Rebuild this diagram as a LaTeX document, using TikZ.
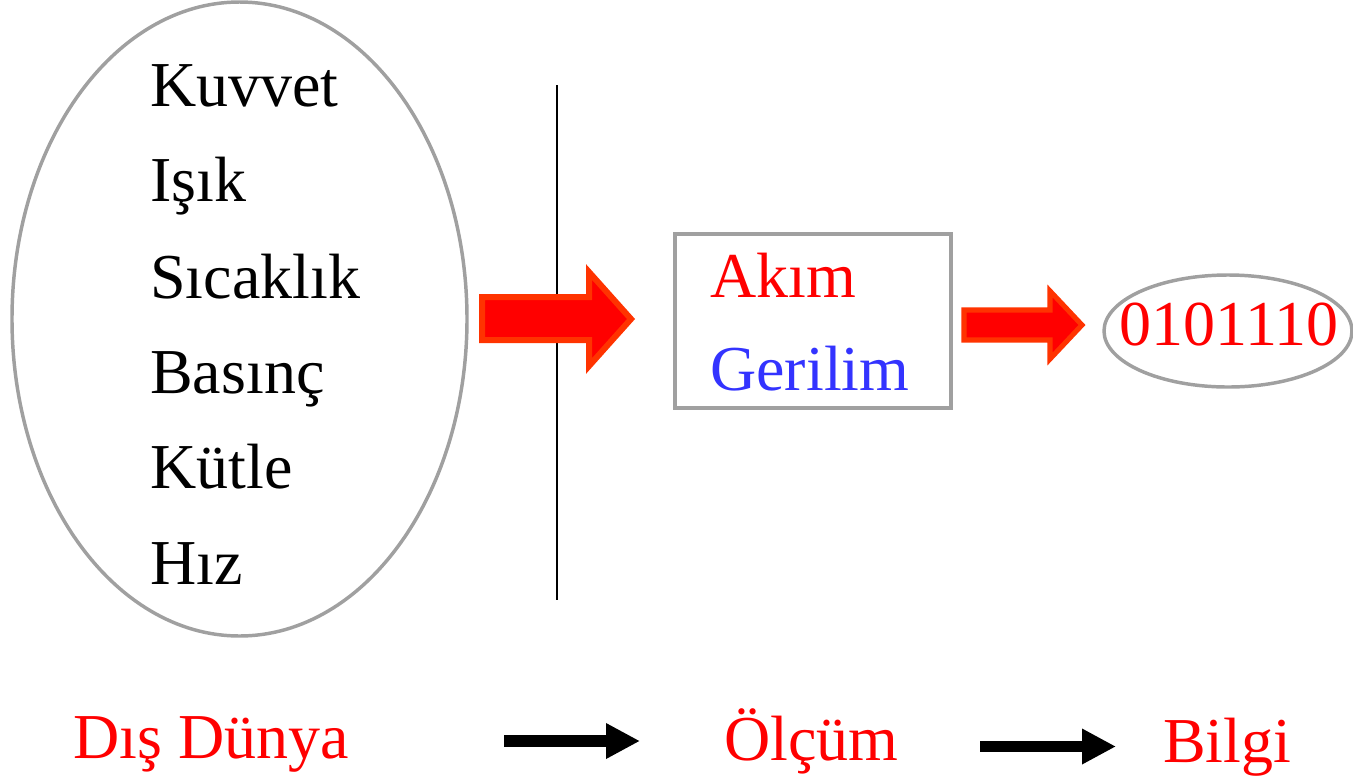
\documentclass[tikz,border=0pt]{standalone}
\usepackage{fontspec}
\setmainfont{Liberation Serif}
\usetikzlibrary{arrows.meta,shapes.geometric}
\definecolor{edgegray}{RGB}{160,160,160}
\definecolor{arrowedge}{RGB}{255,51,0}
\definecolor{txtblue}{RGB}{51,51,255}
\tikzset{
  lbl/.style={inner sep=0pt, anchor=base west, font=\fontsize{48}{54}\selectfont},
  redlbl/.style={lbl, text=red},
  blockarrow/.style={fill=red, draw=arrowedge, line width=4.5pt, line join=miter},
  blackarrow/.style={draw=black, -{Triangle[length=25.5pt,width=25pt]}},
  grayedge/.style={draw=edgegray, line width=2.6pt}
}
\begin{document}
\begin{tikzpicture}[x=0.75pt,y=-0.75pt]
\useasboundingbox (0,0) rectangle (1353,779);
% big ellipse
\node[grayedge, ellipse, minimum width=341.25pt, minimum height=475.5pt, inner sep=0pt] (world) at (239.5,319) {};
\node[lbl] (kuvvet) at (150,106) {Kuvvet};
\node[lbl] (isik) at (150,201) {Işık};
\node[lbl] (sicaklik) at (150,298) {Sıcaklık};
\node[lbl] (basinc) at (150,393) {Basınç};
\node[lbl] (kutle) at (150,488) {Kütle};
\node[lbl] (hiz) at (150,584) {Hız};
% vertical line
\coordinate (vtop) at (557,85);
\coordinate (vbot) at (557,600);
\draw[line width=1.2pt] (vtop) -- (vbot);
% red block arrow 1
\draw[blockarrow] (482,297) -- (589,297) -- (589,272) -- (631,319) -- (589,366) -- (589,340) -- (482,340) -- cycle;
% box
\node[grayedge, rectangle, minimum width=207pt, minimum height=130.5pt, inner sep=0pt] (box) at (813,321) {};
\node[redlbl] (akim) at (710,297) {Akım};
\node[lbl, text=txtblue] (gerilim) at (710,390) {Gerilim};
% red block arrow 2
\draw[blockarrow, line width=3.8pt] (964,310) -- (1050,310) -- (1050,291) -- (1082,325) -- (1050,359) -- (1050,340) -- (964,340) -- cycle;
% small ellipse
\node[grayedge, ellipse, minimum width=186pt, minimum height=84pt, inner sep=0pt] (bitsell) at (1228,331) {};
\node[redlbl, anchor=base] (bits) at (1229,345) {0101110};
% bottom labels
\node[redlbl] (dis) at (73,758) {Dış Dünya};
\node[redlbl] (olcum) at (724,760) {Ölçüm};
\node[redlbl] (bilgi) at (1163,762) {Bilgi};
\coordinate (a1s) at (504,741);
\coordinate (a1e) at (640,741);
\coordinate (a2s) at (980,746.5);
\coordinate (a2e) at (1116,746.5);
\draw[blackarrow, line width=9pt] (a1s) -- (a1e);
\draw[blackarrow, line width=8.3pt] (a2s) -- (a2e);
\end{tikzpicture}
\end{document}
